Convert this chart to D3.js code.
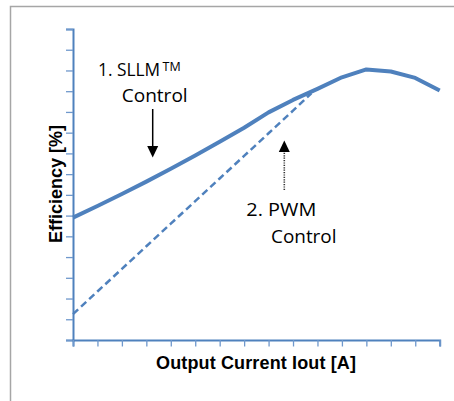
<!DOCTYPE html>
<html><head><meta charset="utf-8">
<script src="https://cdn.jsdelivr.net/npm/d3@7"></script>
<style>html,body{margin:0;padding:0;background:#fff;}svg{display:block;}</style>
</head><body>
<script>
// Data (units: x tick index, y grid steps)
const xTicks = [0,1,2,3,4,5,6,7,8,9,10,11,12,13,14,15];
const yTicks = [0,1,2,3,4,5,6,7,8,9,10,11,12,13,14,15];
const sllmX = [0,1,2,3,4,5,6,7,8,9,10,11,12,13,14,15];
const sllmY = [5.90,6.46,7.04,7.64,8.26,8.90,9.56,10.24,10.98,11.58,12.11,12.67,13.05,12.95,12.64,12.03];
const pwmX = [0,1,2,3,4,5,6,7,8,9,9.75];
const pwmY = [1.25,2.34,3.43,4.52,5.61,6.70,7.79,8.88,9.97,11.06,11.9];
const xTitle = "Output Current Iout [A]";
const yTitle = "Efficiency [%]";

const W = 454, H = 401;
const svg = d3.select("body").append("svg").attr("width", W).attr("height", H);

// outer frame
svg.append("rect").attr("x", 10.5).attr("y", 6.5).attr("width", 480).attr("height", 440)
  .attr("fill", "none").attr("stroke", "#a6a6a6").attr("stroke-width", 1.5);

const x = d3.scaleLinear().domain([0, 15]).range([73, 439.7]);
const y = d3.scaleLinear().domain([0, 15]).range([340, 29]);
const blue = "#4F81BD";

// axes
const yAxis = svg.append("g").attr("transform", "translate(73,0)")
  .call(d3.axisLeft(y).tickValues(yTicks).tickSize(7).tickFormat(""));
const xAxis = svg.append("g").attr("transform", "translate(0,340)")
  .call(d3.axisBottom(x).tickValues(xTicks).tickSize(6.5).tickFormat(""));
[yAxis, xAxis].forEach(g => {
  g.select(".domain").attr("stroke", blue).attr("stroke-width", 2);
  g.selectAll(".tick line").attr("stroke", "#6f98cc").attr("stroke-width", 1.3);
});

// lines
const sllm = sllmX.map((d, i) => [d, sllmY[i]]);
const pwm = pwmX.map((d, i) => [d, pwmY[i]]);
const line = d3.line().x(d => x(d[0])).y(d => y(d[1]));

svg.append("path").attr("d", line(pwm)).attr("fill", "none")
  .attr("stroke", blue).attr("stroke-width", 2.5).attr("stroke-dasharray", "7,4");
svg.append("path").attr("d", line(sllm)).attr("fill", "none")
  .attr("stroke", blue).attr("stroke-width", 4).attr("stroke-linejoin", "round");

// annotations
const lblFont = "'Open Sans', sans-serif";
function label(xp, yp, txt, len, fs) {
  const t = svg.append("text").attr("x", xp).attr("y", yp)
    .attr("font-family", lblFont).attr("font-size", fs || 18.5).attr("fill", "#000").text(txt);
  if (len) t.attr("textLength", len).attr("lengthAdjust", "spacingAndGlyphs");
  return t;
}
label(98, 76, "1. SLLM", null, 17.3);
label(162.5, 71, "TM", null, 12.5);
label(121.7, 101.7, "Control", 66);
label(246.3, 216, "2. PWM", 70);
label(271, 242.7, "Control", 65.5);

// arrow 1 (solid, down)
svg.append("line").attr("x1", 152.7).attr("x2", 152.7).attr("y1", 109).attr("y2", 147)
  .attr("stroke", "#000").attr("stroke-width", 1.5);
svg.append("path").attr("d", "M147.2,146 L158.2,146 L152.7,157.5 Z").attr("fill", "#000");

// arrow 2 (dotted, up)
svg.append("line").attr("x1", 284.3).attr("x2", 284.3).attr("y1", 190).attr("y2", 151)
  .attr("stroke", "#333").attr("stroke-width", 1.6).attr("stroke-dasharray", "1.2,1.2");
svg.append("path").attr("d", "M278.8,152 L289.8,152 L284.3,140.5 Z").attr("fill", "#000");

// axis titles
svg.append("text").attr("x", 256).attr("y", 369).attr("text-anchor", "middle")
  .attr("font-family", "'Liberation Sans', Arial, sans-serif").attr("font-weight", "bold")
  .attr("font-size", 18).attr("textLength", 200).attr("fill", "#000").text(xTitle);
svg.append("text").attr("transform", "translate(61.5,184) rotate(-90)").attr("text-anchor", "middle")
  .attr("font-family", "'Liberation Sans', Arial, sans-serif").attr("font-weight", "bold")
  .attr("font-size", 18).attr("fill", "#000").text(yTitle);
</script>
</body></html>
